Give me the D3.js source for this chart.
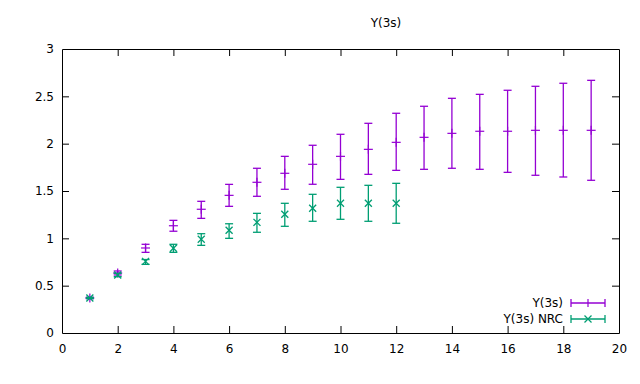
<!DOCTYPE html>
<html>
<head>
<meta charset="utf-8">
<script src="https://cdn.jsdelivr.net/npm/d3@7"></script>
<style>
  body { margin: 0; background: #fff; }
  svg text { font-family: "DejaVu Sans", sans-serif; font-size: 12px; fill: #000; }
</style>
</head>
<body>
<div class="chartContainer"></div>
<script>
// series: Y(3s)
const xs1 = [1, 2, 3, 4, 5, 6, 7, 8, 9, 10, 11, 12, 13, 14, 15, 16, 17, 18, 19];
const y1 = [0.37, 0.634, 0.898, 1.133, 1.307, 1.454, 1.592, 1.687, 1.782, 1.866, 1.94, 2.014, 2.067, 2.109, 2.131, 2.131, 2.141, 2.141, 2.141];
const lo1 = [0.362, 0.613, 0.852, 1.075, 1.211, 1.338, 1.444, 1.518, 1.571, 1.623, 1.676, 1.718, 1.729, 1.74, 1.729, 1.697, 1.666, 1.648, 1.613];
const hi1 = [0.378, 0.655, 0.937, 1.19, 1.391, 1.57, 1.74, 1.866, 1.983, 2.099, 2.215, 2.321, 2.395, 2.479, 2.521, 2.564, 2.606, 2.638, 2.669];

// series: Y(3s) NRC
const xs2 = [1, 2, 3, 4, 5, 6, 7, 8, 9, 10, 11, 12];
const y2 = [0.37, 0.613, 0.757, 0.895, 0.99, 1.085, 1.169, 1.254, 1.317, 1.37, 1.37, 1.37];
const lo2 = [0.365, 0.595, 0.725, 0.852, 0.926, 1.0, 1.064, 1.127, 1.18, 1.201, 1.18, 1.159];
const hi2 = [0.375, 0.63, 0.776, 0.937, 1.049, 1.154, 1.264, 1.37, 1.465, 1.539, 1.56, 1.581];

const xTicks = [0, 2, 4, 6, 8, 10, 12, 14, 16, 18, 20];
const yTicks = [0, 0.5, 1, 1.5, 2, 2.5, 3];
const seriesNames = ["Y(3s)", "Y(3s) NRC"];
const title = "Y(3s)";

const width = 640, height = 384;
const margin = {top: 49, right: 21, bottom: 51, left: 62};
const colors = ["#9400d3", "#009e73"];

const x = d3.scaleLinear().domain([0, 20]).range([margin.left, width - margin.right]);
const y = d3.scaleLinear().domain([0, 3]).range([height - margin.bottom, margin.top]);

const svg = d3.select(".chartContainer").append("svg")
    .attr("width", width)
    .attr("height", height);

const fmt = d => d3.format("~g")(d);

// axes with inward ticks, mirrored on top and right
svg.append("g")
    .attr("transform", `translate(0,${height - margin.bottom})`)
    .call(d3.axisBottom(x).tickValues(xTicks).tickFormat(fmt).tickSizeInner(-7).tickSizeOuter(0).tickPadding(11));
svg.append("g")
    .attr("transform", `translate(0,${margin.top})`)
    .call(d3.axisTop(x).tickValues(xTicks).tickFormat("").tickSizeInner(-7).tickSizeOuter(0));
svg.append("g")
    .attr("transform", `translate(${margin.left},0)`)
    .call(d3.axisLeft(y).tickValues(yTicks).tickFormat(fmt).tickSizeInner(-7).tickSizeOuter(0).tickPadding(8));
svg.append("g")
    .attr("transform", `translate(${width - margin.right},0)`)
    .call(d3.axisRight(y).tickValues(yTicks).tickFormat("").tickSizeInner(-7).tickSizeOuter(0));

svg.selectAll(".domain").attr("stroke", "#000");
svg.selectAll(".tick line").attr("stroke", "#000");
svg.selectAll(".tick text").style("font-family", "DejaVu Sans").style("font-size", "12px");
// the first and last tick lines sit on the border, drop them
svg.selectAll(".tick").filter(d => d === 0 || d === 20 || d === 3).select("line").remove();

svg.append("text")
    .attr("x", 386)
    .attr("y", 27)
    .attr("text-anchor", "middle")
    .text(title);

const cap = 4;

function drawPlus(g, cx, cy, color) {
    g.append("line").attr("x1", cx - 4.5).attr("x2", cx + 4.5).attr("y1", cy).attr("y2", cy)
        .attr("stroke", color).attr("stroke-width", 1.2);
    g.append("line").attr("x1", cx).attr("x2", cx).attr("y1", cy - 4.5).attr("y2", cy + 4.5)
        .attr("stroke", color).attr("stroke-width", 1.2);
}
function drawCross(g, cx, cy, color) {
    g.append("line").attr("x1", cx - 3.5).attr("x2", cx + 3.5).attr("y1", cy - 3.5).attr("y2", cy + 3.5)
        .attr("stroke", color).attr("stroke-width", 1.3);
    g.append("line").attr("x1", cx - 3.5).attr("x2", cx + 3.5).attr("y1", cy + 3.5).attr("y2", cy - 3.5)
        .attr("stroke", color).attr("stroke-width", 1.3);
}

function drawSeries(xs, ys, los, his, color, marker) {
    const g = svg.append("g");
    xs.forEach((xv, i) => {
        const px = x(xv);
        g.append("line").attr("x1", px).attr("x2", px).attr("y1", y(los[i])).attr("y2", y(his[i]))
            .attr("stroke", color).attr("stroke-width", 1.3);
        [los[i], his[i]].forEach(v => {
            g.append("line").attr("x1", px - cap).attr("x2", px + cap).attr("y1", y(v)).attr("y2", y(v))
                .attr("stroke", color).attr("stroke-width", 1.3);
        });
        marker(g, px, y(ys[i]), color);
    });
}

drawSeries(xs1, y1, lo1, hi1, colors[0], drawPlus);
drawSeries(xs2, y2, lo2, hi2, colors[1], drawCross);

// legend
const legend = svg.append("g");
seriesNames.forEach((name, i) => {
    const ly = 303 + i * 16;
    legend.append("text").attr("x", 563).attr("y", ly).attr("dy", "0.35em")
        .attr("text-anchor", "end").text(name);
    legend.append("line").attr("x1", 571).attr("x2", 605).attr("y1", ly).attr("y2", ly)
        .attr("stroke", colors[i]).attr("stroke-width", 1.3);
    [571, 605].forEach(px => {
        legend.append("line").attr("x1", px).attr("x2", px).attr("y1", ly - cap).attr("y2", ly + cap)
            .attr("stroke", colors[i]).attr("stroke-width", 1.3);
    });
    if (i === 0) {
        legend.append("line").attr("x1", 588).attr("x2", 588).attr("y1", ly - 4).attr("y2", ly + 4)
            .attr("stroke", colors[i]).attr("stroke-width", 1.2);
    } else {
        drawCross(legend, 588, ly, colors[i]);
    }
});
</script>
</body>
</html>
